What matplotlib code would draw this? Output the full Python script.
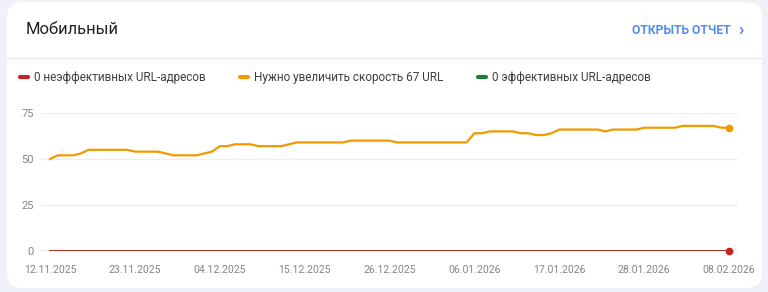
import matplotlib
matplotlib.use("Agg")
import matplotlib.pyplot as plt
import matplotlib.dates as mdates
from matplotlib.patches import FancyBboxPatch
import pandas as pd

plt.rcParams['font.family'] = ['Roboto', 'DejaVu Sans']

dates = pd.date_range('2025-11-12', '2026-02-08', freq='D')
slow = [50, 52, 52, 52, 53, 55, 55, 55, 55, 55, 55, 54, 54, 54, 54, 53,
        52, 52, 52, 52, 53, 54, 57, 57, 58, 58, 58, 57, 57, 57, 57, 58,
        59, 59, 59, 59, 59, 59, 59, 60, 60, 60, 60, 60, 60, 59, 59, 59,
        59, 59, 59, 59, 59, 59, 59, 64, 64, 65, 65, 65, 65, 64, 64, 63,
        63, 64, 66, 66, 66, 66, 66, 66, 65, 66, 66, 66, 66, 67, 67, 67,
        67, 67, 68, 68, 68, 68, 68, 67, 67]
poor = [0] * len(dates)
good = [0] * len(dates)

legend_labels = ['0 неэффективных URL-адресов',
                 'Нужно увеличить скорость 67 URL',
                 '0 эффективных URL-адресов']
colors = ['#c5221f', '#f29900', '#188038']

W, H = 768, 292
fig = plt.figure(figsize=(W / 100, H / 100), dpi=100)
fig.patch.set_facecolor('#eef1f8')

card = FancyBboxPatch((7 / W, 4 / H), 755 / W, 286 / H,
                      boxstyle='round,pad=0,rounding_size=0.02',
                      transform=fig.transFigure, facecolor='white',
                      edgecolor='none', mutation_aspect=W / H, zorder=-5)
fig.patches.append(card)

fig.text(26 / W, 1 - 29 / H, 'Мобильный', fontsize=12, color='#202124',
         va='center', ha='left')
fig.text(731 / W, 1 - 30 / H, 'ОТКРЫТЬ ОТЧЕТ', fontsize=8.7, color='#4f8cf2',
         va='center', ha='right', fontweight='bold')
fig.text(738 / W, 1 - 30 / H, '›', fontsize=13, color='#4f8cf2',
         va='center', ha='left', fontweight='bold')
fig.add_artist(plt.Line2D([7 / W, 762 / W], [1 - 57.5 / H, 1 - 57.5 / H],
                          color='#e8eaed', lw=1, transform=fig.transFigure))

# legend
leg_x = [20, 240, 478]
for x0, lab, c in zip(leg_x, legend_labels, colors):
    fig.add_artist(plt.Line2D([x0 / W, (x0 + 8) / W], [1 - 77 / H] * 2,
                              color=c, lw=3, solid_capstyle='round',
                              transform=fig.transFigure))
    fig.text((x0 + 14) / W, 1 - 77 / H, lab, fontsize=8.45, color='#3c4043',
             va='center', ha='left')

ax = fig.add_axes([41 / W, 41 / H, 697 / W, 138 / H])
ax.set_zorder(2)
ax.set_facecolor('none')
ax.plot(dates, good, color=colors[2], lw=2, zorder=3)
ax.plot(dates, slow, color=colors[1], lw=1.6, zorder=4)
ax.plot(dates, poor, color=colors[0], lw=2, zorder=5)
ax.plot(dates[-1], slow[-1], 'o', color=colors[1], ms=4.5, zorder=6, clip_on=False)
ax.plot(dates[-1], poor[-1], 'o', color=colors[0], ms=4.5, zorder=6, clip_on=False)

ax.set_ylim(0, 75)
ax.set_yticks([0, 25, 50, 75])
ax.set_xlim(dates[0] - pd.Timedelta(days=1.17), dates[-1] + pd.Timedelta(days=1.17))
ax.set_xticks(dates[::11])
ax.xaxis.set_major_formatter(mdates.DateFormatter('%d.%m.%Y'))
ax.grid(axis='y', color='#eeeeee', lw=1)
ax.axhline(0, color='#9aa0a6', lw=1, zorder=2)
for s in ax.spines.values():
    s.set_visible(False)
ax.tick_params(length=0, labelsize=7.6, labelcolor='#80868b')
ax.tick_params(axis='y', pad=5, labelsize=8)
ax.tick_params(axis='x', pad=10)
for lbl in ax.get_yticklabels():
    lbl.set_clip_on(False)

fig.savefig('out.png', dpi=100, facecolor=fig.get_facecolor())
